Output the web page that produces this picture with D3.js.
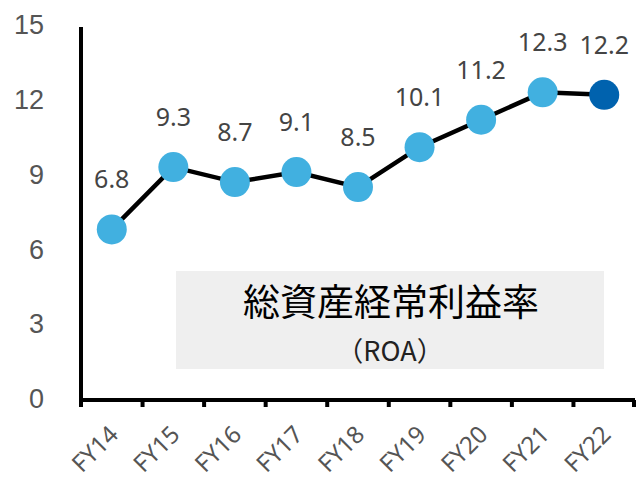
<meta charset="utf-8">
<style>
  body { margin: 0; background: #fff; }
  .val { font-size: 25px; fill: #444; text-anchor: middle; }
  .tick text { font-size: 27px; fill: #555; }
</style>
<body>
<script src="https://d3js.org/d3.v7.min.js"></script>
<script>
// data
var years = ["FY14", "FY15", "FY16", "FY17", "FY18", "FY19", "FY20", "FY21", "FY22"];
var roa = [6.8, 9.3, 8.7, 9.1, 8.5, 10.1, 11.2, 12.3, 12.2];
var yTicks = [0, 3, 6, 9, 12, 15];

var W = 636, H = 484;
var mLeft = 81, mRight = 635, mTop = 25, mBottom = 399;
var font = "'Noto Sans', 'Noto Sans CJK JP', sans-serif";

var svg = d3.select("body").append("svg")
    .attr("width", W).attr("height", H)
    .style("font-family", font);

var x = d3.scaleBand().domain(years).range([mLeft, mRight]);
var y = d3.scaleLinear().domain([0, 15]).range([mBottom, mTop]);

// label box
svg.append("rect")
    .attr("x", 176).attr("y", 271).attr("width", 428).attr("height", 98)
    .attr("fill", "#efefef");
svg.append("text")
    .attr("x", 391).attr("y", 316)
    .attr("text-anchor", "middle")
    .style("font-family", "'Noto Sans CJK JP', sans-serif")
    .style("font-size", "37px").attr("fill", "#000")
    .text("総資産経常利益率");
svg.append("text")
    .attr("x", 390).attr("y", 361)
    .attr("text-anchor", "middle")
    .style("font-family", "'Noto Sans CJK JP', sans-serif")
    .style("font-size", "27px").attr("fill", "#222")
    .text("（ROA）");

// y axis
var yAxis = svg.append("g")
    .attr("transform", "translate(" + mLeft + ",0)")
    .call(d3.axisLeft(y).tickValues(yTicks).tickSize(0).tickPadding(37));
yAxis.select(".domain").remove();
yAxis.append("line")
    .attr("x1", 0).attr("x2", 0).attr("y1", 27).attr("y2", 405)
    .attr("stroke", "#000").attr("stroke-width", 4);

// x axis
var xAxis = svg.append("g")
    .attr("transform", "translate(0," + (mBottom + 1) + ")");
xAxis.append("line")
    .attr("x1", mLeft - 2).attr("x2", mRight).attr("y1", 0).attr("y2", 0)
    .attr("stroke", "#000").attr("stroke-width", 4);
var tickPos = years.map(function(d) { return x(d); }).concat([mRight - 1]);
xAxis.selectAll(".tk").data(tickPos).enter().append("line")
    .attr("x1", function(d) { return d; }).attr("x2", function(d) { return d; })
    .attr("y1", 0).attr("y2", 7)
    .attr("stroke", "#000").attr("stroke-width", 4);

svg.selectAll(".xl").data(years).enter().append("text")
    .attr("transform", function(d) {
      return "translate(" + (x(d) + x.bandwidth() / 2 + 8) + ",436) rotate(-45)";
    })
    .attr("text-anchor", "end")
    .style("font-size", "24px").attr("fill", "#555")
    .text(function(d) { return d; });

// line
var data = years.map(function(d, i) { return { year: d, v: roa[i] }; });
var line = d3.line()
    .x(function(d) { return x(d.year) + x.bandwidth() / 2; })
    .y(function(d) { return y(d.v); });
svg.append("path").datum(data)
    .attr("d", line)
    .attr("fill", "none").attr("stroke", "#000").attr("stroke-width", 4.5);

svg.selectAll(".dot").data(data).enter().append("circle")
    .attr("cx", function(d) { return x(d.year) + x.bandwidth() / 2; })
    .attr("cy", function(d) { return y(d.v); })
    .attr("r", 15)
    .attr("fill", function(d, i) { return i === data.length - 1 ? "#0062ae" : "#41b0e0"; });

svg.selectAll(".val").data(data).enter().append("text")
    .attr("class", "val")
    .attr("x", function(d) { return x(d.year) + x.bandwidth() / 2; })
    .attr("y", function(d) { return y(d.v) - 41; })
    .text(function(d) { return d3.format(".1f")(d.v); });
</script>
</body>
